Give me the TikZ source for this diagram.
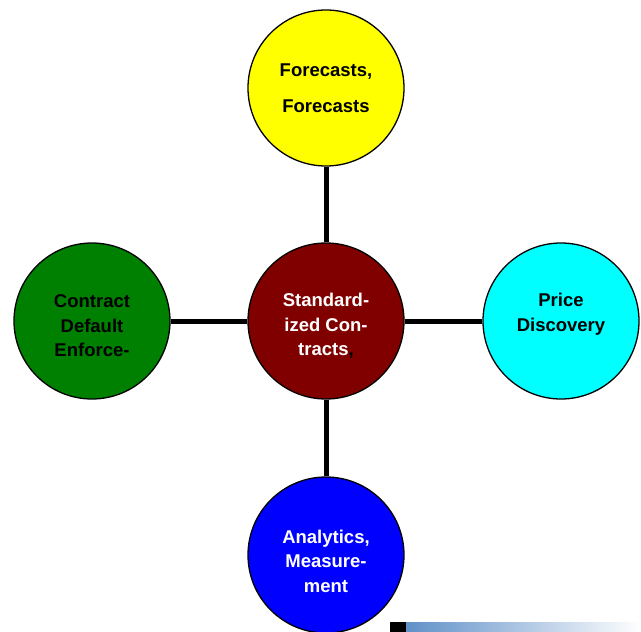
\documentclass[tikz,border=0pt]{standalone}
\usepackage{fontspec}
\setmainfont{Liberation Sans}
\begin{document}
\begin{tikzpicture}[x=1pt,y=-1pt,
  bubble/.style={circle,draw=black,line width=1.3pt,minimum size=156pt,inner sep=0pt},
  txt/.style={align=center,font=\bfseries\fontsize{18.5}{24.5}\selectfont},
  link/.style={line width=5pt,black}]
\definecolor{barblue}{RGB}{96,144,200}
\definecolor{cbred}{RGB}{128,0,0}
\definecolor{cbgreen}{RGB}{0,128,0}
\definecolor{cbcyan}{RGB}{0,255,255}
\definecolor{cbblue}{RGB}{0,0,255}
\definecolor{cbyellow}{RGB}{255,255,0}
\useasboundingbox (0,0) rectangle (641,632);
\node[bubble,fill=cbyellow,label={[txt,font=\bfseries\fontsize{18.5}{36}\selectfont]center:Forecasts,\\Forecasts}] (top) at (326,88) {};
\node[bubble,fill=cbred,label={[txt,text=white,yshift=-5pt]center:Standard-\\ized Con-\\tracts\textcolor{black}{,}}] (ctr) at (326,321) {};
\node[bubble,fill=cbgreen,label={[txt,yshift=-5pt]center:Contract\\Default\\Enforce-}] (lft) at (92,321) {};
\node[bubble,fill=cbcyan,label={[txt,yshift=7pt]center:Price\\Discovery}] (rgt) at (561,321) {};
\node[bubble,fill=cbblue,label={[txt,text=white,yshift=-6pt]center:Analytics,\\Measure-\\ment}] (bot) at (326,555) {};
\draw[link] (top) -- (ctr);
\draw[link] (lft) -- (ctr);
\draw[link] (rgt) -- (ctr);
\draw[link] (bot) -- (ctr);
\fill[black] (390,622) rectangle (406,632);
\shade[left color=barblue,right color=white] (406,622) rectangle (641,632);
\end{tikzpicture}
\end{document}
